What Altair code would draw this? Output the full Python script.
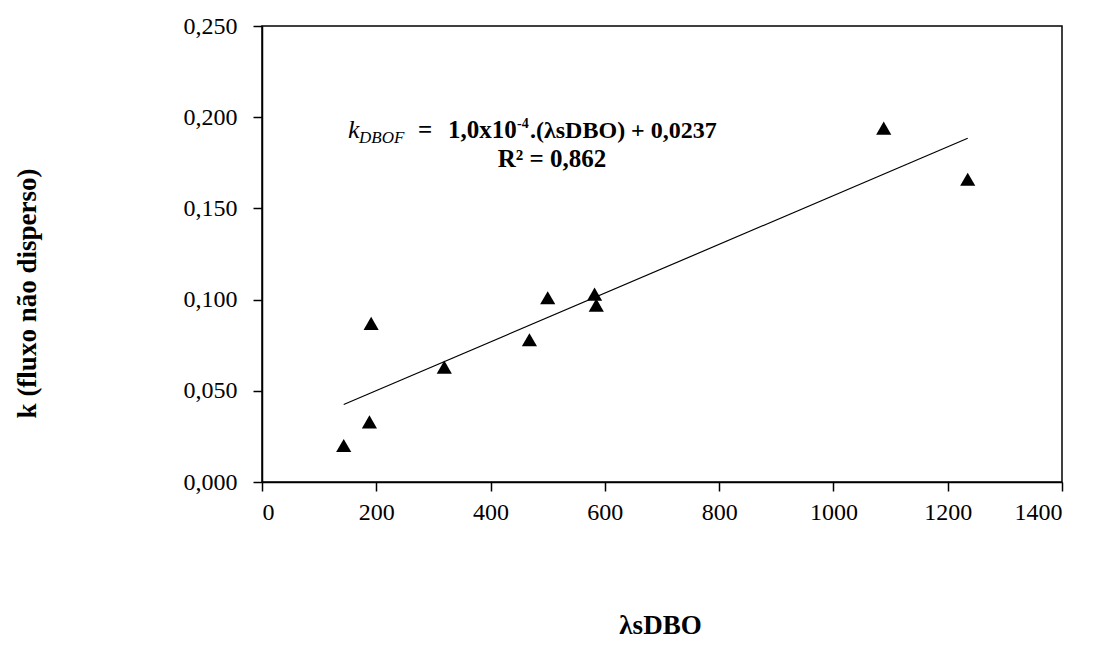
import altair as alt
import pandas as pd

# Data
lambda_sdbo = [143, 188, 191, 319, 468, 500, 582, 585, 1088, 1235]
k_values = [0.020, 0.033, 0.087, 0.063, 0.078, 0.101, 0.103, 0.097, 0.194, 0.166]
x_ticks = [0, 200, 400, 600, 800, 1000, 1200, 1400]
y_ticks = [0.0, 0.05, 0.10, 0.15, 0.20, 0.25]

df = pd.DataFrame({"x": lambda_sdbo, "y": k_values})

FONT = "Liberation Serif"

x_enc = alt.X(
    "x:Q",
    scale=alt.Scale(domain=[0, 1400], nice=False, zero=False),
    axis=alt.Axis(
        values=x_ticks, format="d", title="λsDBO",
        titleX=398, titleY=143, titleAlign="center", titleBaseline="middle",
        titleFontSize=27, titleFont=FONT, titleFontWeight="bold", titleColor="black",
        labelFont=FONT, labelFontSize=24, labelColor="black", labelPadding=9,
        tickSize=9, tickColor="black", tickWidth=1.5,
        domainColor="black", domainWidth=1.5, grid=False,
    ),
)
y_enc = alt.Y(
    "y:Q",
    scale=alt.Scale(domain=[0, 0.25], nice=False, zero=False),
    axis=alt.Axis(
        values=y_ticks, title="k (fluxo não disperso)",
        labelExpr="replace(format(datum.value, '.3f'), '.', ',')",
        titleX=-235, titleY=267, titleAlign="center", titleBaseline="middle", titleAngle=-90,
        titleFontSize=27, titleFont=FONT, titleFontWeight="bold", titleColor="black",
        labelFont=FONT, labelFontSize=24, labelColor="black", labelPadding=16,
        tickSize=9, tickColor="black", tickWidth=1.5,
        domainColor="black", domainWidth=1.5, grid=False,
    ),
)

base = alt.Chart(df)

points = base.mark_point(shape="triangle-up", filled=True, color="black", opacity=1, size=230).encode(
    x=x_enc, y=y_enc
)

line = base.transform_regression("x", "y").mark_line(color="black", strokeWidth=1.2).encode(
    x="x:Q", y="y:Q"
)

ann_df = pd.DataFrame({"t": [""]})


def label(text, px, py, size, weight="bold", style="normal", align="left"):
    return alt.Chart(ann_df).mark_text(
        text=text, font=FONT, fontSize=size, fontWeight=weight, fontStyle=style,
        align=align, baseline="alphabetic", color="black",
    ).encode(x=alt.value(px), y=alt.value(py))


annotations = [
    label("k", 86, 112, 26, weight="normal", style="italic"),
    label("DBOF", 97, 117, 17, weight="normal", style="italic"),
    label("=", 156, 112, 25),
    label("1,0x10", 186, 112, 25),
    label("-4", 255, 102, 14),
    label(".(λsDBO) + 0,0237", 268, 112, 24),
    label("R² = 0,862", 290, 141, 25, align="center"),
]

chart = alt.layer(line, points, *annotations).properties(
    width=800,
    height=456,
    autosize=alt.AutoSizeParams(type="none"),
    padding={"left": 262, "top": 26, "right": 34, "bottom": 164},
    background="white",
).configure_view(stroke="black", strokeWidth=1.5).configure_text(font=FONT)

chart.save("out.html", embed_options={"renderer": "svg", "actions": False})
